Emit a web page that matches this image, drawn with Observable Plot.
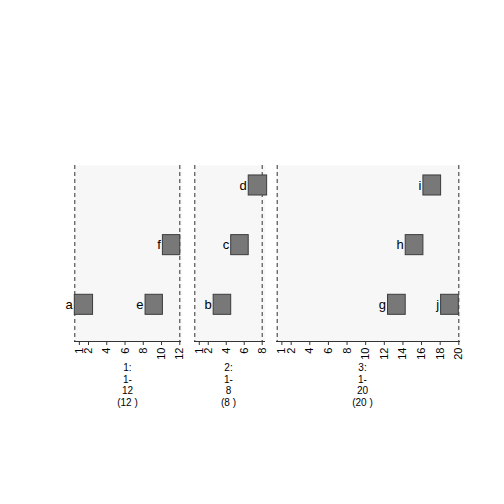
<!DOCTYPE html>
<html>
<head>
<meta charset="utf-8">
<script src="https://cdn.jsdelivr.net/npm/d3@7"></script>
<script src="https://cdn.jsdelivr.net/npm/@observablehq/plot@0.6"></script>
<style>
  html, body { margin: 0; padding: 0; background: #fff; }
  #chart { position: relative; width: 504px; height: 504px; }
  #chart svg { position: absolute; left: 0; top: 0; overflow: visible; }
</style>
</head>
<body>
<div id="chart"></div>
<script>
// ---- data ----
const panelIds = [1, 2, 3];
const panelMax = [12, 8, 20];
const panelTicks = [
  [1, 2, 4, 6, 8, 10, 12],
  [1, 2, 4, 6, 8],
  [1, 2, 4, 6, 8, 10, 12, 14, 16, 18, 20]
];
const stripLabels = ["1:\n1-\n12\n(12 )", "2:\n1-\n8\n(8 )", "3:\n1-\n20\n(20 )"];
const stripPos = [6.27, 4.25, 9.66];

const tileNames = ["a", "e", "f", "b", "c", "d", "g", "h", "i", "j"];
const tilePanel = [1, 1, 1, 2, 2, 2, 3, 3, 3, 3];
const tileStart = [0.5, 8.25, 10.15, 2.6, 4.55, 6.5, 12.4, 14.3, 16.2, 18.1];
const tileEnd   = [2.5, 10.15, 12.05, 4.55, 6.5, 8.55, 14.3, 16.2, 18.1, 20.0];
const tileRow   = [1, 1, 2, 1, 2, 3, 1, 2, 3, 1];

// ---- layout (pixels) ----
const frameBox = [[74, 181], [194, 265], [276, 460]];
const dashBox  = [[74.3, 179.3], [194.3, 261.7], [276.7, 458.3]];
const panelTop = 165, panelBottom = 341;
const yDomain = [0.385, 3.335];
const halfH = 0.168;

const tiles = tileNames.map((n, i) => ({
  name: n, panel: tilePanel[i], x1: tileStart[i], x2: tileEnd[i], row: tileRow[i]
}));

const chart = document.getElementById("chart");
const font = "'Liberation Sans', Arial, Helvetica, sans-serif";

panelIds.forEach((p, k) => {
  const data = tiles.filter(d => d.panel === p);
  const svg = Plot.plot({
    width: 504,
    height: 504,
    marginLeft: frameBox[k][0],
    marginRight: 504 - frameBox[k][1],
    marginTop: panelTop,
    marginBottom: 504 - panelBottom,
    style: { fontFamily: font, background: "transparent", overflow: "visible" },
    x: { domain: [0.5, panelMax[k]], range: dashBox[k], axis: null },
    y: { domain: yDomain, axis: null },
    marks: [
      Plot.frame({ fill: "#f7f7f7", stroke: null }),
      Plot.ruleX([0.5, panelMax[k]], { stroke: "#333", strokeDasharray: "4,3", strokeWidth: 1 }),
      Plot.ruleY([yDomain[0]], { stroke: "#333", strokeWidth: 1 }),
      Plot.axisX({
        ticks: panelTicks[k],
        tickFormat: d => String(d),
        tickSize: 4,
        tickPadding: 2,
        tickRotate: -90,
        fontSize: 11,
        fill: "#000",
        stroke: "#333",
        label: null
      }),
      Plot.rect(data, {
        x1: "x1", x2: "x2",
        y1: d => d.row - halfH, y2: d => d.row + halfH,
        fill: "#787878", stroke: "#3c3c3c", strokeWidth: 1
      }),
      Plot.text(data, {
        x: "x1", y: "row", text: "name",
        textAnchor: "end", dx: -2, fontSize: 13, fill: "#000"
      }),
      Plot.text([stripLabels[k]], {
        x: () => stripPos[k], text: d => d,
        frameAnchor: "bottom", lineAnchor: "top", dy: 21,
        fontSize: 10, lineHeight: 1.17, fill: "#000"
      })
    ]
  });
  chart.appendChild(svg);
});
</script>
</body>
</html>
